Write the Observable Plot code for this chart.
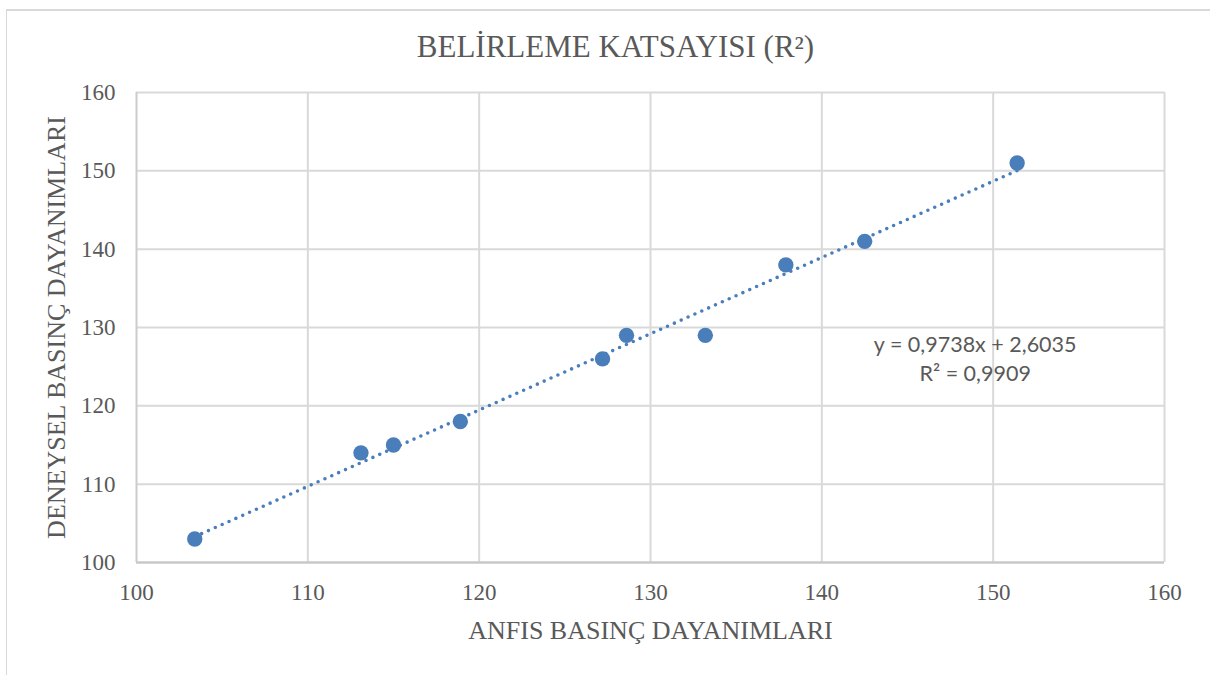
<!DOCTYPE html>
<html>
<head>
<meta charset="utf-8">
<script src="https://cdn.jsdelivr.net/npm/d3@7"></script>
<script src="https://cdn.jsdelivr.net/npm/@observablehq/plot@0.6"></script>
<style>
  html, body { margin: 0; padding: 0; background: #fff; }
  #wrap { position: relative; width: 1210px; height: 675px; overflow: hidden; }
  #frame { position: absolute; left: 6px; top: 9px; width: 1300px; height: 700px;
           border-left: 1.5px solid #d9d9d9; border-top: 2px solid #d9d9d9; }
  #chart { position: absolute; left: 0; top: 0; }
</style>
</head>
<body>
<div id="wrap"><div id="frame"></div><div id="chart"></div></div>
<script>
// ANFIS predicted vs experimental compressive strength
const anfis    = [103.4, 113.1, 115.0, 118.9, 127.2, 128.6, 133.2, 137.9, 142.5, 151.4];
const deneysel = [103,   114,   115,   118,   126,   129,   129,   138,   141,   151];

// Linear trendline as reported on the chart
const slope = 0.9738;
const intercept = 2.6035;
const r2 = 0.9909;

const xTicks = [100, 110, 120, 130, 140, 150, 160];
const yTicks = [100, 110, 120, 130, 140, 150, 160];

const titleText = "BELİRLEME KATSAYISI (R²)";
const xTitle = "ANFIS BASINÇ DAYANIMLARI";
const yTitle = "DENEYSEL BASINÇ DAYANIMLARI";

const fmt = (v, d) => v.toFixed(d).replace(".", ",");
const eqText = `y = ${fmt(slope, 4)}x + ${fmt(intercept, 4)}\nR² = ${fmt(r2, 4)}`;

const points = anfis.map((x, i) => ({x, y: deneysel[i]}));
const xExtent = d3.extent(anfis);
const trend = xExtent.map(x => ({x, y: slope * x + intercept}));

const blue = "#4a7ebb";
const grey = "#595959";
const serif = "'Liberation Serif', 'Times New Roman', serif";

const chart = Plot.plot({
  width: 1210,
  height: 675,
  marginLeft: 136,
  marginRight: 46,
  marginTop: 92,
  marginBottom: 113,
  style: {fontFamily: serif, fontSize: "23px", color: grey, background: "transparent"},
  x: {domain: [100, 160], ticks: xTicks, label: null},
  y: {domain: [100, 160], ticks: yTicks, label: null},
  marks: [
    Plot.ruleX(xTicks.slice(1), {stroke: "#d9d9d9", strokeWidth: 2}),
    Plot.ruleY(yTicks.slice(1), {stroke: "#d9d9d9", strokeWidth: 2}),
    Plot.ruleX([xTicks[0]], {stroke: "#cccccc", strokeWidth: 2}),
    Plot.ruleY([yTicks[0]], {stroke: "#c8c8c8", strokeWidth: 2.5}),
    Plot.axisX(xTicks, {tickSize: 0, tickPadding: 21, fill: grey, fontSize: 23, fontFamily: serif}),
    Plot.axisY(yTicks, {tickSize: 0, tickPadding: 21, fill: grey, fontSize: 23, fontFamily: serif}),
    Plot.line(trend, {x: "x", y: "y", stroke: blue, strokeWidth: 3.6,
      strokeDasharray: "0 7.5", strokeLinecap: "round"}),
    Plot.dot(points, {x: "x", y: "y", r: 7.7, fill: blue, stroke: "none"}),
    Plot.text([eqText], {x: 148.95, y: 126.2, text: d => d, textAnchor: "middle",
      lineAnchor: "middle", lineHeight: 1.35, fontSize: 21.5, fill: grey,
      fontFamily: "Lato, 'Open Sans', sans-serif"}),
    Plot.text([titleText], {frameAnchor: "top", dx: -35, dy: -58, text: d => d,
      fontSize: 31, fill: grey, fontFamily: serif}),
    Plot.text([xTitle], {frameAnchor: "bottom", dy: 76, text: d => d,
      fontSize: 26, fill: grey, fontFamily: serif}),
    Plot.text([yTitle], {frameAnchor: "left", dx: -79.5, rotate: -90, textAnchor: "middle",
      text: d => d, fontSize: 26, fill: grey, fontFamily: serif})
  ]
});

document.getElementById("chart").appendChild(chart);
</script>
</body>
</html>
